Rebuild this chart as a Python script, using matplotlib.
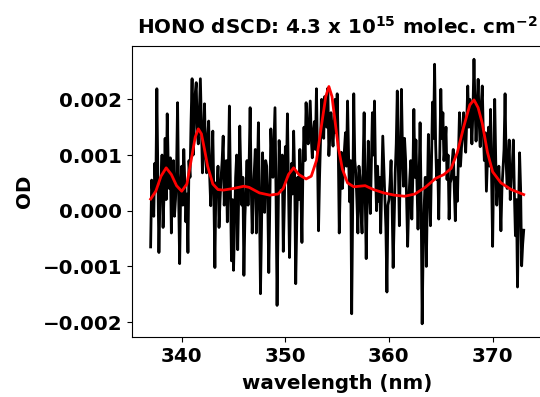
import numpy as np
import matplotlib.pyplot as plt

# measured differential optical depth, 0.1 nm steps from 337 to 373 nm (units of 1e-3)
wl_start = 337.0
wl_step = 0.1
od_meas_e3 = [
    -0.65, 0.55, 0.30, -0.10, 0.85, 0.40, 2.19, 0.60, -0.75, 0.20,
    0.50, 1.00, -0.30, 0.35, 1.30, 0.20, 1.74, 0.80, 0.40, 0.95,
    -0.40, 0.50, 0.90, -0.10, 0.20, 0.70, 1.94, 0.30, -0.95, 0.40,
    0.80, 0.10, 1.10, 0.50, -0.20, 0.30, -0.75, 0.90, 0.60, 1.60,
    2.37, 1.00, 1.50, 2.10, 2.30, 1.40, 1.20, 1.80, 2.37, 1.50,
    0.68, 1.20, 1.92, 1.00, 0.68, 1.30, 1.61, 0.60, 0.09, 0.80,
    1.43, 0.30, -1.02, 0.50, 0.30, 0.80, -0.30, 0.20, 0.60, 0.90,
    1.34, 0.10, 0.48, 0.90, -0.20, 0.70, 1.88, 0.40, -0.90, 0.20,
    -1.07, -0.20, 0.60, 1.00, -0.70, 0.30, 1.52, 0.70, 0.10, 0.60,
    -1.16, -0.10, 0.40, 0.90, 0.10, 0.80, 1.85, 0.50, -0.40, 0.30,
    0.68, 1.10, -0.40, 0.60, 1.58, 0.20, -1.49, -0.30, 1.04, 0.40,
    -0.03, 0.90, 0.80, 0.20, -1.11, 0.10, 1.47, 0.90, 0.60, 1.20,
    1.85, 0.30, -1.70, -0.20, 1.26, 0.70, 0.40, 1.00, -0.73, 0.10,
    1.15, 0.60, 1.74, 0.50, -0.84, 0.20, 0.85, 0.30, 1.43, 0.60,
    -1.31, -0.20, 0.60, 0.20, 1.10, 0.40, -0.57, 0.80, 1.50, 0.90,
    1.94, 1.40, 1.20, 1.60, 1.97, 1.30, 0.95, 1.40, 1.60, 1.10,
    2.19, 1.00, -0.36, 0.60, 1.27, 2.00, 1.70, 1.30, 2.05, 1.80,
    1.50, 2.20, 0.99, 1.40, 1.76, 1.40, 1.16, 1.60, 2.00, 1.40,
    2.10, 1.20, -0.40, 0.50, 1.05, 0.40, 0.68, 1.10, 1.40, 0.80,
    1.97, 1.00, 0.16, 0.90, -1.85, 0.20, 2.10, 0.90, 0.68, 0.20,
    -0.40, 0.80, 0.60, 0.00, -0.40, 0.80, 1.76, 0.30, -0.86, 0.30,
    1.25, 0.40, -0.05, 0.90, 1.76, 1.00, 1.97, 0.70, 0.00, 0.80,
    0.17, 0.60, -0.40, 0.50, 1.34, 0.80, 0.27, -0.30, -1.46, 0.10,
    0.20, 0.50, 0.90, 0.10, -1.02, -0.20, 0.68, 1.20, 2.15, 0.80,
    -0.27, 1.00, 2.18, 1.10, 0.44, 1.30, 0.93, 0.20, -0.64, 0.10,
    0.56, 0.90, -0.15, 0.60, 1.82, 0.60, 1.27, 0.50, -0.33, 0.50,
    1.58, 0.20, -2.03, -0.60, 0.10, 0.60, -1.00, 0.20, 1.37, 0.50,
    -0.27, 0.80, 1.95, 1.30, 2.63, 1.20, 0.56, 0.90, -0.15, 1.00,
    2.18, 1.30, 1.76, 0.90, 1.15, 1.50, 0.56, 1.00, -0.15, 0.50,
    0.56, 0.90, 1.10, 0.40, -0.18, 0.60, 0.17, 1.00, 1.76, 0.80,
    1.15, 1.50, 1.76, 1.30, 1.05, 1.60, 2.24, 1.50, 2.00, 1.70,
    1.20, 1.80, 2.72, 1.90, 1.25, 1.80, 2.36, 1.60, 1.15, 1.90,
    2.24, 1.40, 0.90, 1.40, 0.35, 0.90, 1.50, 0.80, 1.82, 0.60,
    -0.64, 0.80, 2.00, 0.90, 0.10, 0.50, 0.80, 0.30, -0.36, 0.40,
    0.74, 1.10, 2.10, 0.90, 0.40, 0.90, 1.27, 0.20, 0.60, 0.80,
    1.27, 0.30, -0.45, 0.20, -1.37, 0.00, 1.04, 0.40, -0.99, -0.60,
    -0.35,
]

# fitted HONO cross section scaled by the retrieved dSCD
fit_wl = [
    337.0, 337.5, 338.0, 338.5, 339.0, 339.5, 340.0, 340.5, 341.0, 341.3,
    341.6, 341.9, 342.2, 342.5, 343.0, 343.5, 344.0, 345.0, 346.0, 346.5,
    347.5, 348.5, 349.3, 349.8, 350.3, 350.8, 351.3, 352.0, 352.5, 353.0,
    353.5, 353.9, 354.2, 354.5, 354.8, 355.1, 355.5, 356.0, 356.6, 357.7,
    358.5, 359.5, 360.5, 361.5, 362.5, 363.5, 364.5, 365.3, 366.0, 366.6,
    367.2, 367.8, 368.2, 368.6, 369.0, 369.5, 370.0, 370.8, 371.8, 373.0,
]
fit_od_e3 = [
    0.21, 0.35, 0.62, 0.77, 0.65, 0.45, 0.35, 0.48, 1.00, 1.32,
    1.47, 1.38, 1.10, 0.80, 0.48, 0.38, 0.37, 0.40, 0.44, 0.42,
    0.32, 0.28, 0.30, 0.40, 0.65, 0.77, 0.65, 0.57, 0.62, 0.90,
    1.55, 2.05, 2.23, 2.05, 1.60, 1.15, 0.75, 0.50, 0.43, 0.45,
    0.38, 0.32, 0.28, 0.26, 0.30, 0.42, 0.58, 0.65, 0.76, 1.05,
    1.50, 1.90, 1.99, 1.85, 1.57, 1.05, 0.70, 0.50, 0.38, 0.29,
]

dscd_mant = 4.3
dscd_exp = 15

wl = wl_start + wl_step * np.arange(len(od_meas_e3))
od_meas = np.array(od_meas_e3) * 1e-3
fit_od = np.array(fit_od_e3) * 1e-3

plt.rcParams['font.family'] = 'DejaVu Sans'
plt.rcParams['font.weight'] = 'bold'
plt.rcParams['axes.labelweight'] = 'bold'
plt.rcParams['axes.titleweight'] = 'bold'

fs = 14.3

fig = plt.figure(figsize=(5.4, 3.97), dpi=100)
ax = fig.add_axes([0.2444, 0.1511, 0.76, 0.733])

ax.plot(wl, od_meas, color='black', lw=2.0)
ax.plot(fit_wl, fit_od, color='red', lw=2.0)

ax.set_xticks([340, 350, 360, 370])
ax.set_yticks([-0.002, -0.001, 0.0, 0.001, 0.002])
ax.set_yticklabels(['\u22120.002', '\u22120.001', '0.000', '0.001', '0.002'])
ax.tick_params(labelsize=fs)
for lab in ax.get_xticklabels() + ax.get_yticklabels():
    lab.set_fontweight('bold')

ax.set_xlabel('wavelength (nm)', fontsize=fs, labelpad=6)
ax.set_ylabel('OD', fontsize=fs, labelpad=6)
ax.set_title(r'HONO dSCD: %.1f x 10$^{\mathbf{%d}}$ molec. cm$^{\mathbf{-2}}$' % (dscd_mant, dscd_exp),
             fontsize=fs, pad=9)

plt.savefig('out.png', dpi=100)
